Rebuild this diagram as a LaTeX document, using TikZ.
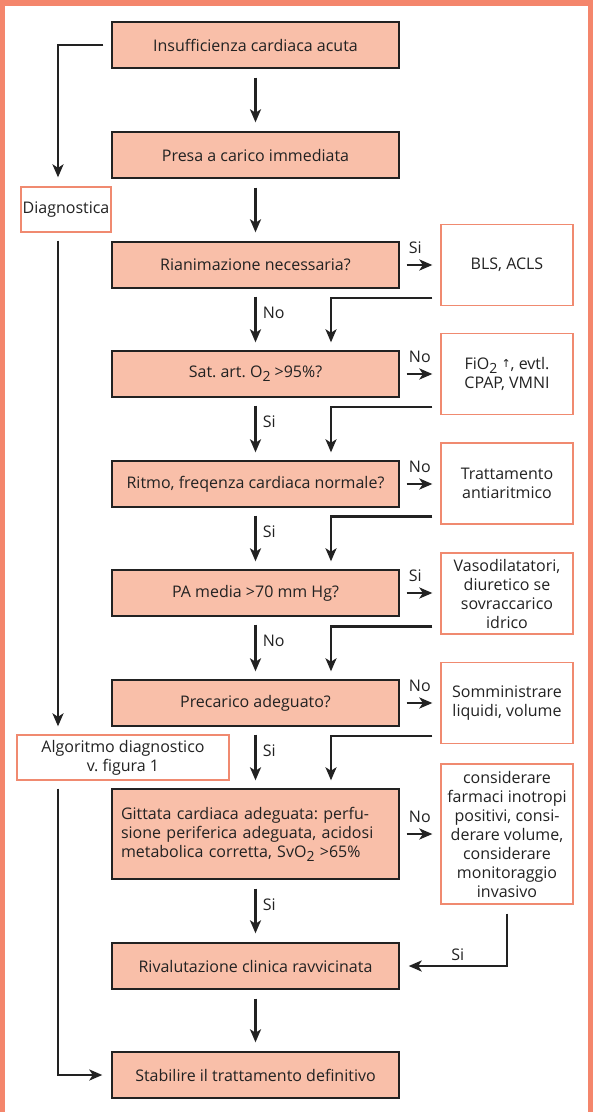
\documentclass[tikz,border=0pt]{standalone}
\usepackage{fontspec}
\setmainfont{Open Sans}
\newfontfamily\symfont{DejaVu Sans}
\usepackage{tikz}
\usetikzlibrary{positioning, calc, arrows.meta}

\definecolor{framecol}{RGB}{244,134,108}
\definecolor{boxfill}{RGB}{249,191,169}
\definecolor{sideline}{RGB}{240,138,112}
\definecolor{inkgray}{RGB}{34,34,34}

\newcommand{\subtwo}{\raisebox{-0.45ex}{\fontsize{14}{14}\selectfont 2}}
\newcommand{\uparr}{{\symfont\fontsize{11}{11}\selectfont\raisebox{0.35ex}{↑}}}

\tikzset{
  mainbox/.style={draw=inkgray, line width=1.4pt, fill=boxfill, minimum width=287pt, minimum height=46pt, inner sep=0pt, text=inkgray},
  sidebox/.style={draw=sideline, line width=1.3pt, fill=white, minimum width=132pt, minimum height=81pt, align=center, inner sep=0pt, text=inkgray},
  flow/.style={draw=inkgray, line width=2.5pt, -{Stealth[length=13pt,width=11pt,inset=3.5pt]}},
  lbl/.style={inner sep=1pt, text=inkgray},
}

\begin{document}
\frenchspacing
\begin{tikzpicture}[x=1pt, y=-1pt, font=\fontsize{16}{19}\selectfont]

      % FRAME

      \fill[framecol] (0,0) rectangle (593,1112);
      \fill[white] (5,6) rectangle (588,1112);
      \useasboundingbox (0,0) rectangle (593,1112);

      % MAIN BOXES

      \node[mainbox] (acuta) at (255.5,45) {Insufficienza cardiaca acuta};
      \node[mainbox] (presa) at (255.5,155) {Presa a carico immediata};
      \node[mainbox] (rian) at (255.5,265) {Rianimazione necessaria?};
      \node[mainbox] (sat) at (255.5,374) {Sat. art. O\subtwo{} >95\%?};
      \node[mainbox] (ritmo) at (255.5,484) {Ritmo, freqenza cardiaca normale?};
      \node[mainbox] (pa) at (255.5,593) {PA media >70 mm Hg?};
      \node[mainbox] (prec) at (255.5,703) {Precarico adeguato?};
      \node[mainbox, minimum height=90pt, text width=269pt, inner xsep=9pt, align=left] (gitt) at (255.5,834)
        {Gittata cardiaca adeguata: perfu-\\sione periferica adeguata, acidosi\\metabolica corretta, SvO\subtwo{} >65\%};
      \node[mainbox] (rival) at (255.5,966) {Rivalutazione clinica ravvicinata};
      \node[mainbox] (stab) at (255.5,1075) {Stabilire il trattamento definitivo};

      % SIDE BOXES

      \node[sidebox] (bls) at (507,265) {BLS, ACLS};
      \node[sidebox] (fio) at (507,374) {FiO\subtwo{} \uparr, evtl.\\CPAP, VMNI};
      \node[sidebox] (antiar) at (507,483.5) {Trattamento\\antiaritmico};
      \node[sidebox] (vaso) at (507,593.5) {Vasodilatatori,\\diuretico se\\sovraccarico\\idrico};
      \node[sidebox] (liq) at (507,703) {Somministrare\\liquidi, volume};
      \node[sidebox, minimum height=140pt] (inotr) at (507,834)
        {considerare\\farmaci inotropi\\positivi, consi-\\derare volume,\\considerare\\monitoraggio\\invasivo};

      \node[sidebox, minimum width=90pt, minimum height=45pt] (diag) at (66,209.5) {Diagnostica};
      \node[sidebox, minimum width=212pt, minimum height=45pt] (algo) at (123,757.5) {Algoritmo diagnostico\\v. figura 1};

      \coordinate (spine) at (58,0);

      % ARROWS DOWN

      \draw[flow] ($(acuta.south)+(0,9)$) -- ($(presa.north)+(0,-9)$);
      \draw[flow] ($(presa.south)+(0,9)$) -- ($(rian.north)+(0,-9)$);
      \draw[flow] ($(rian.south)+(0,8)$) -- node[lbl, right, pos=.35, xshift=5pt] {No} ($(sat.north)+(0,-8)$);
      \draw[flow] ($(sat.south)+(0,8)$) -- node[lbl, right, pos=.35, xshift=5pt] {Si} ($(ritmo.north)+(0,-8)$);
      \draw[flow] ($(ritmo.south)+(0,8)$) -- node[lbl, right, pos=.35, xshift=5pt] {Si} ($(pa.north)+(0,-8)$);
      \draw[flow] ($(pa.south)+(0,8)$) -- node[lbl, right, pos=.35, xshift=5pt] {No} ($(prec.north)+(0,-8)$);
      \draw[flow] ($(prec.south)+(0,8)$) -- node[lbl, right, pos=.35, xshift=5pt] {Si} ($(gitt.north)+(0,-8)$);
      \draw[flow] ($(gitt.south)+(0,9)$) -- node[lbl, right, pos=.35, xshift=5pt] {Si} ($(rival.north)+(0,-9)$);
      \draw[flow] ($(rival.south)+(0,9)$) -- ($(stab.north)+(0,-9)$);

      % ARROWS TO THE SIDE

      \draw[flow] ($(rian.east)+(7,0)$) node[lbl, above right, yshift=9pt] {Si} -- ($(rian.east -| bls.west)+(-8,0)$);
      \draw[flow] ($(sat.east)+(7,0)$) node[lbl, above right, yshift=9pt] {No} -- ($(sat.east -| fio.west)+(-8,0)$);
      \draw[flow] ($(ritmo.east)+(7,0)$) node[lbl, above right, yshift=9pt] {No} -- ($(ritmo.east -| antiar.west)+(-8,0)$);
      \draw[flow] ($(pa.east)+(7,0)$) node[lbl, above right, yshift=9pt] {Si} -- ($(pa.east -| vaso.west)+(-8,0)$);
      \draw[flow] ($(prec.east)+(7,0)$) node[lbl, above right, yshift=9pt] {No} -- ($(prec.east -| liq.west)+(-8,0)$);
      \draw[flow] ($(gitt.east)+(7,0)$) node[lbl, above right, yshift=9pt] {No} -- ($(gitt.east -| inotr.west)+(-8,0)$);

      % ARROWS BACK

      \draw[flow] ($(bls.south west)+(-8,-8)$) -| ($(sat.north)+(75.5,-8)$);
      \draw[flow] ($(fio.south west)+(-8,-8)$) -| ($(ritmo.north)+(75.5,-8)$);
      \draw[flow] ($(antiar.south west)+(-8,-8)$) -| ($(pa.north)+(75.5,-8)$);
      \draw[flow] ($(vaso.south west)+(-8,-8)$) -| ($(prec.north)+(75.5,-8)$);
      \draw[flow] ($(liq.south west)+(-8,-8)$) -| ($(gitt.north)+(75.5,-8)$);
      \draw[flow] ($(inotr.south)+(0,9)$) |- node[lbl, above, pos=.75, yshift=3pt] {Si} ($(rival.east)+(9,0)$);

      % DIAGNOSTICS

      \draw[flow] ($(acuta.west)+(-8,0)$) -| ($(diag.north -| spine)+(0,-9)$);
      \draw[flow] ($(diag.south -| spine)+(0,8)$) -- ($(algo.north -| spine)+(0,-8)$);
      \draw[flow] ($(algo.south -| spine)+(0,8)$) |- ($(stab.west)+(-9,0)$);

\end{tikzpicture}
\end{document}
